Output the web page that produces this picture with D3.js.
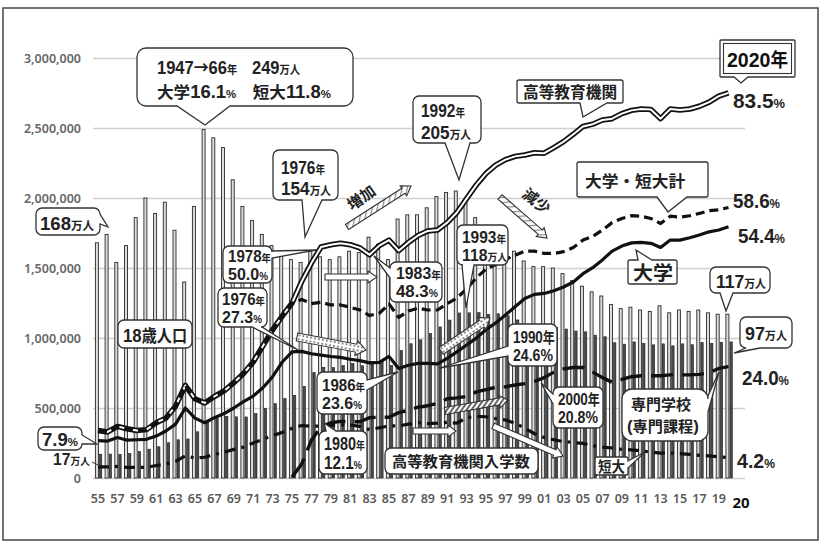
<!DOCTYPE html>
<html><head><meta charset="utf-8">
<script src="https://cdn.jsdelivr.net/npm/d3@7"></script>
<style>body{margin:0;background:#fff}svg{display:block}</style>
</head><body><svg id="c" width="823" height="547"></svg>
<script>
// ---------- data ----------
const years = [1955,1956,1957,1958,1959,1960,1961,1962,1963,1964,1965,1966,1967,1968,1969,1970,1971,1972,1973,1974,1975,1976,1977,1978,1979,1980,1981,1982,1983,1984,1985,1986,1987,1988,1989,1990,1991,1992,1993,1994,1995,1996,1997,1998,1999,2000,2001,2002,2003,2004,2005,2006,2007,2008,2009,2010,2011,2012,2013,2014,2015,2016,2017,2018,2019,2020];
// 18歳人口 (万人)
const pop18 = [168,174,154,166,186,200,189,197,177,140, 194,249,243,236,213,194,184,174,166,162, 156,154,162,158,156,158,162,161,172,167, 156,185,188,188,193,201,204,205,198,186, 177,173,168,162,155,151,151,150,146,141, 137,133,130,124,121,122,120,119,123,118, 120,119,120,118,117,117];
// 高等教育機関入学数 (万人)
const entrants = [17.0,17.1,16.9,17.4,18.8,20.6,22.3,25.2,27.3,27.9, 33.0,40.1,42.5,44.1,43.7,43.6,46.0,49.6,53.1,56.7, 59.0,65.5,75.3,79.0,78.8,80.3,81.8,80.2,83.1,84.0, 80.3,91.0,95.9,98.7,103.3,107.9,112.8,117.9,118.0,118.1, 116.8,117.3,115.9,112.9,108.5,106.5,106.3,107.4,106.4,105.0, 104.4,102.0,100.9,96.6,95.6,97.2,96.0,95.1,95.8,94.4, 95.8,95.2,96.7,96.2,96.9,97.2];
// 進学率 (%)
const rateHigher = [10.1,9.8,11.0,10.5,10.1,10.3,11.8,12.8,15.4,19.9, 17.0,16.1,17.5,18.7,20.5,22.5,25.0,28.5,32.0,35.0, 37.8,42.5,46.5,50.0,50.5,50.8,50.5,49.8,48.3,50.3, 51.5,49.2,51.0,52.5,53.5,53.7,55.3,57.5,60.5,63.5, 66.0,67.8,69.0,69.7,70.0,70.5,70.4,71.6,72.9,74.5, 76.2,76.7,77.6,77.9,79.0,79.7,80.0,79.9,77.9,80.0, 79.8,80.0,80.6,81.5,82.8,83.5];
const rateUnivJC = [10.1,9.8,11.0,10.5,10.1,10.3,11.8,12.8,15.4,19.9, 17.0,16.1,17.5,18.7,20.5,22.5,25.0,28.5,32.0,35.0, 37.8,38.6,37.7,38.0,37.4,37.4,36.9,36.3,35.1,35.6, 37.6,34.7,36.1,36.7,36.3,36.3,37.7,38.9,40.9,43.3, 45.2,46.2,47.3,48.2,49.1,49.1,48.6,48.6,49.0,49.9, 51.5,52.3,53.7,55.3,56.2,56.8,56.7,56.2,55.1,56.7, 56.5,56.8,57.3,57.9,58.1,58.6];
const rateUniv = [7.9,7.8,8.6,8.0,8.1,8.2,8.9,10.0,11.5,15.0, 12.8,11.8,12.9,13.8,15.0,16.4,17.6,19.4,21.8,25.0, 27.2,27.3,26.8,26.5,26.2,26.0,25.6,25.3,24.8,24.9, 26.2,23.6,24.3,24.7,24.7,24.6,25.8,27.2,28.7,30.2, 32.0,33.5,35.2,37.0,38.8,39.7,39.9,40.5,41.3,42.4, 44.2,45.5,47.2,49.1,50.2,50.9,51.0,50.8,49.9,51.5, 51.5,52.0,52.6,53.3,53.7,54.4];
const rateJC = [2.2,2.2,2.3,2.1,2.1,2.1,2.5,2.8,3.4,4.6, 4.1,4.3,4.9,5.4,6.0,6.5,7.4,8.2,9.0,9.7, 10.6,11.2,11.0,11.1,11.2,11.3,11.3,11.0,10.3,10.7, 11.1,11.1,11.5,11.8,11.6,11.7,11.9,11.7,12.9,13.2, 13.1,12.7,12.4,11.7,10.6,9.4,8.6,8.1,7.7,7.5, 7.3,6.8,6.5,6.3,6.0,5.9,5.7,5.4,5.2,5.2, 5.1,4.9,4.7,4.6,4.4,4.2];
// 専門学校(専門課程) from 1975
const vocYears = [1975,1976,1977,1978,1979,1980,1981,1982,1983,1984,1985,1986,1987,1988,1989,1990,1991,1992,1993,1994,1995,1996,1997,1998,1999,2000,2001,2002,2003,2004,2005,2006,2007,2008,2009,2010,2011,2012,2013,2014,2015,2016,2017,2018,2019,2020];
const rateVoc = [0,2.8,8.0,11.0,11.8,12.1,12.0,12.0,12.9,13.0, 13.0,14.0,14.5,15.2,15.5,16.0,17.0,17.2,17.5,18.5, 19.0,19.5,19.6,20.0,20.3,20.8,21.6,22.8,23.5,23.8, 23.8,22.8,21.6,20.6,21.2,21.8,22.0,22.0,22.0,22.2, 22.2,22.2,22.3,22.7,23.6,24.0];
const yTicks = [0,500000,1000000,1500000,2000000,2500000,3000000];
const xTickYears = [1955,1957,1959,1961,1963,1965,1967,1969,1971,1973,1975,1977,1979,1981,1983,1985,1987,1989,1991,1993,1995,1997,1999,2001,2003,2005,2007,2009,2011,2013,2015,2017,2019];

// ---------- setup ----------
const svg = d3.select("#c");
const JP = "'Noto Sans CJK JP','Noto Sans CJK SC',sans-serif";
const LAT = "'Liberation Sans Narrow','Liberation Sans',Arial,sans-serif";
const defs = svg.append("defs");
const pd = defs.append("pattern").attr("id","dots").attr("width",4).attr("height",4).attr("patternUnits","userSpaceOnUse");
pd.append("rect").attr("width",4).attr("height",4).attr("fill","#fff");
pd.append("circle").attr("cx",2).attr("cy",2).attr("r",0.9).attr("fill","#555");
const ph = defs.append("pattern").attr("id","hatch").attr("width",4).attr("height",4).attr("patternUnits","userSpaceOnUse").attr("patternTransform","rotate(45)");
ph.append("rect").attr("width",4).attr("height",4).attr("fill","#fff");
ph.append("rect").attr("width",2).attr("height",4).attr("fill","#666");
const ph2 = defs.append("pattern").attr("id","hatchL").attr("width",5).attr("height",5).attr("patternUnits","userSpaceOnUse").attr("patternTransform","rotate(45)");
ph2.append("rect").attr("width",5).attr("height",5).attr("fill","#fff");
ph2.append("rect").attr("width",1.2).attr("height",5).attr("fill","#888");

svg.append("rect").attr("x",3).attr("y",8).attr("width",815).attr("height",532).attr("fill","#fff").attr("stroke","#444").attr("stroke-width",1.5);

const x = d3.scaleBand().domain(years).range([93.15, 733.35]).padding(0);
const cx = y => x(y) + x.bandwidth()/2;
const yC = d3.scaleLinear().domain([0,3000000]).range([478,58]);
const yP = d3.scaleLinear().domain([0,100]).range([477,17]);

// y axis + grid
const ga = svg.append("g").attr("transform","translate(93,0)")
  .call(d3.axisLeft(yC).tickValues(yTicks).tickFormat(d3.format(",")).tickSizeInner(-652).tickSizeOuter(0).tickPadding(12));
ga.select(".domain").remove();
ga.selectAll(".tick line").attr("stroke","#cfcfcf").attr("stroke-width",1.4);
ga.selectAll(".tick text").attr("font-family","'Noto Sans',sans-serif").attr("font-size",12.5).attr("font-weight",600).attr("fill","#666");

// x axis
const gx = svg.append("g").attr("transform","translate(0,478)")
  .call(d3.axisBottom(x).tickValues(xTickYears).tickFormat(d => String(d).slice(2)).tickSize(0).tickPadding(16));
gx.select(".domain").remove();
gx.selectAll(".tick text").attr("font-family","'Noto Sans',sans-serif").attr("font-size",12.5).attr("font-weight",600).attr("fill","#5a5a5a");
svg.append("text").attr("x",741).attr("y",508).attr("text-anchor","middle").attr("font-family","'Noto Sans',sans-serif")
  .attr("font-size",15).attr("font-weight",700).attr("fill","#111").text("20");

// bars
const gb = svg.append("g");
gb.selectAll(".p").data(years).join("rect")
  .attr("x", (d)=>cx(d)-2.6).attr("width",3.0)
  .attr("y",(d,i)=>yC(pop18[i]*10000)).attr("height",(d,i)=>478-yC(pop18[i]*10000))
  .attr("fill","#dcdcdc").attr("stroke","#2a2a2a").attr("stroke-width",0.9);
gb.selectAll(".e").data(years).join("rect")
  .attr("x", (d)=>cx(d)+1.4).attr("width",2.4)
  .attr("y",(d,i)=>yC(entrants[i]*10000)).attr("height",(d,i)=>478-yC(entrants[i]*10000))
  .attr("fill","#4a4a4a").attr("stroke","#1e1e1e").attr("stroke-width",0.6);

// lines
const line = (arrY, vals) => d3.line().x((d,i)=>cx(arrY[i])).y(d=>yP(d))(vals);
const gl = svg.append("g").attr("fill","none").attr("stroke-linejoin","round");
gl.append("path").attr("d",line(years,rateHigher)).attr("stroke","#111").attr("stroke-width",5.5);
gl.append("path").attr("d",line(years,rateHigher)).attr("stroke","#fff").attr("stroke-width",2);
gl.append("path").attr("d",line(years,rateUnivJC)).attr("stroke","#111").attr("stroke-width",3.2).attr("stroke-dasharray","9,5");
gl.append("path").attr("d",line(years,rateUniv)).attr("stroke","#111").attr("stroke-width",3.2);
gl.append("path").attr("d",line(vocYears,rateVoc)).attr("stroke","#111").attr("stroke-width",3.4).attr("stroke-dasharray","22,9");
gl.append("path").attr("d",line(years,rateJC)).attr("stroke","#111").attr("stroke-width",3.2).attr("stroke-dasharray","11,6,3,6");

// ---------- helpers ----------
const CJK = /([\u2190-\u21ff\u3000-\u30ff\u3400-\u9fff\uff00-\uffef]+)/;
function rich(g, X, Y, str, size, len, fill, extra){
  const t = g.append("text").attr("x",0).attr("y",0).attr("font-weight",700)
    .attr("font-family",LAT).attr("font-size",size).attr("fill",fill||"#222");
  str.split(/(\{[^}]*\})/).filter(s=>s.length).forEach(seg=>{
    const small = seg[0]==="{";
    const body = small ? seg.slice(1,-1) : seg;
    body.split(CJK).filter(s=>s.length).forEach(run=>{
      const isC = CJK.test(run);
      t.append("tspan").attr("font-family", isC ? JP : LAT)
        .attr("font-size", small ? size*0.62 : (isC ? size*0.9 : size)).text(run);
    });
  });
  let k = 1;
  if (len) { const w = t.node().getComputedTextLength(); if (w>0) k = len / w; }
  t.attr("transform", `translate(${X},${Y})` + (extra||"") + ` scale(${k.toFixed(3)},1)`);
  return t;
}
function calloutPath(o){
  const {x:X,y:Y,w,h}=o, r=o.r||6, s=o.side, a=o.a, b=o.b, tp=o.tip;
  let p = `M${X+r},${Y}`;
  if (s==="top") p += `L${a},${Y}L${tp[0]},${tp[1]}L${b},${Y}`;
  p += `L${X+w-r},${Y}A${r},${r} 0 0 1 ${X+w},${Y+r}`;
  if (s==="right") p += `L${X+w},${a}L${tp[0]},${tp[1]}L${X+w},${b}`;
  p += `L${X+w},${Y+h-r}A${r},${r} 0 0 1 ${X+w-r},${Y+h}`;
  if (s==="bottom") p += `L${b},${Y+h}L${tp[0]},${tp[1]}L${a},${Y+h}`;
  p += `L${X+r},${Y+h}A${r},${r} 0 0 1 ${X},${Y+h-r}`;
  if (s==="left") p += `L${X},${b}L${tp[0]},${tp[1]}L${X},${a}`;
  p += `L${X},${Y+r}A${r},${r} 0 0 1 ${X+r},${Y}Z`;
  return p;
}
const gc = svg.append("g");
function callout(o, texts){
  gc.append("path").attr("d",calloutPath(o)).attr("fill","#fff").attr("stroke","#333").attr("stroke-width",1.3);
  texts.forEach(t=>rich(gc,t[0],t[1],t[2],t[3]||18,t[4]));
}
function arrow(p1,p2,sw,hw,hl,fill){
  const dx=p2[0]-p1[0], dy=p2[1]-p1[1], L=Math.hypot(dx,dy), ang=Math.atan2(dy,dx)*180/Math.PI;
  const pts=[[0,-sw/2],[L-hl,-sw/2],[L-hl,-hw/2],[L,0],[L-hl,hw/2],[L-hl,sw/2],[0,sw/2]];
  gc.append("path").attr("d","M"+pts.map(p=>p.join(",")).join("L")+"Z")
    .attr("transform",`translate(${p1[0]},${p1[1]}) rotate(${ang})`)
    .attr("fill",fill).attr("stroke","#333").attr("stroke-width",1.1);
}

// ---------- arrows ----------
arrow([325,277],[377,277],6,12,9,"#fff");
arrow([297,337],[366,350],8,15,10,"url(#dots)");
arrow([441,351],[490,318],8,15,10,"url(#dots)");
arrow([445,411],[508,400],7,13,9,"url(#hatch)");
arrow([413,431],[456,431],6,12,8,"#fff");
arrow([493,426],[563,456],6,12,9,"#fff");
arrow([347,227],[411,186],6,12,9,"url(#hatchL)");
arrow([500,197],[547,238],6,12,9,"url(#hatchL)");
rich(gc,352,211,"増加",17,null,null," rotate(-35)");
rich(gc,521,196,"減少",17,null,null," rotate(38)");

// ---------- callouts ----------
callout({x:137,y:48,w:216,h:58,r:9,side:"bottom",a:177,b:230,tip:[205,125]},
  [[157,74,"1947→66{年}　249{万人}",19,143],[157,98,"大学16.1{%}　短大11.8{%}",18,174]]);
callout({x:36,y:208,w:64,h:27,side:"right",a:214,b:224,tip:[108,227]},[[40,230,"168{万人}",19,54]]);
callout({x:273,y:150,w:65,h:50,side:"bottom",a:302,b:322,tip:[305,237]},[[281,174,"1976{年}",19,44],[281,195,"154{万人}",19,50]]);
callout({x:413,y:96,w:68,h:47,side:"bottom",a:445,b:470,tip:[459,180]},[[421,117,"1992{年}",19,44],[421,139,"205{万人}",19,50]]);
callout({x:517,y:80,w:106,h:23,r:2,side:"bottom",a:580,b:607,tip:[583,117]},[[523,98,"高等教育機関",18,94]]);
// 2020年 double box
gc.append("path").attr("d",calloutPath({x:720,y:40,w:75,h:37,r:1,side:"bottom",a:734,b:748,tip:[741,83]})).attr("fill","#fff").attr("stroke","#333").attr("stroke-width",1.3);
gc.append("rect").attr("x",723.5).attr("y",43.5).attr("width",68).attr("height",30).attr("fill","none").attr("stroke","#333").attr("stroke-width",1.1);
rich(gc,727,67,"2020年",21,61,"#111");
callout({x:577,y:162,w:131,h:35,r:2,side:"bottom",a:657,b:687,tip:[668,212]},[[585,187,"大学・短大計",18,100]]);
callout({x:628,y:260,w:49,h:24,r:2,side:"top",a:638,b:652,tip:[636,250]},[[633,280,"大学",22,40]]);
callout({x:710,y:267,w:60,h:26,side:"bottom",a:720,b:733,tip:[726,311]},[[716,288,"117{万人}",19,50]]);
callout({x:740,y:317,w:52,h:31,side:"bottom",a:746,b:760,tip:[734,353]},[[745,340,"97{万人}",19,42]]);
callout({x:622,y:389,w:86,h:52,r:10,side:"right",a:396,b:412,tip:[719,372]},[[631,410,"専門学校",17,60],[627,432,"(専門課程)",17,72]]);
callout({x:595,y:457,w:33,h:18,r:2,side:"right",a:461,b:468,tip:[645,452]},[[598,472,"短大",16,27]]);
callout({x:553,y:387,w:50,h:41,side:"left",a:394,b:404,tip:[541,383]},[[558,405,"2000年",17,42],[558,423,"20.8%",17,40]]);
callout({x:508,y:324,w:49,h:42,side:"left",a:346,b:356,tip:[440,368]},[[513,343,"1990年",17,42],[513,361,"24.6%",17,40]]);
callout({x:317,y:372,w:50,h:42,side:"right",a:380,b:390,tip:[398,372]},[[322,391,"1986{年}",17,43],[322,409,"23.6{%}",17,40]]);
callout({x:319,y:431,w:48,h:43,side:"top",a:326,b:336,tip:[324,423]},[[324,450,"1980{年}",18,41],[324,469,"12.1{%}",18,38]]);
callout({x:457,y:225,w:51,h:40,side:"bottom",a:462,b:474,tip:[466,308]},[[462,243,"1993{年}",17,44],[462,261,"118{万人}",17,45]]);
callout({x:390,y:262,w:52,h:40,side:"left",a:268,b:278,tip:[374,256]},[[396,279,"1983{年}",17,45],[396,297,"48.3{%}",17,42]]);
callout({x:223,y:246,w:49,h:37,side:"right",a:251,b:258,tip:[316,250]},[[228,262,"1978{年}",17,43],[228,280,"50.0{%}",17,40]]);
callout({x:218,y:288,w:49,h:39,side:"bottom",a:252,b:262,tip:[298,350]},[[222,305,"1976{年}",17,43],[222,323,"27.3{%}",17,40]]);
callout({x:118,y:320,w:74,h:28},[[123,342,"18歳人口",19,64]]);
callout({x:38,y:427,w:44,h:23,side:"right",a:435,b:444,tip:[97,444]},[[42,446,"7.9{%}",19,36]]);
callout({x:385,y:448,w:153,h:26},[[392,467,"高等教育機関入学数",17,138]]);

// free labels
rich(gc,53,465,"17{万人}",16,37);
gc.append("line").attr("x1",92).attr("y1",462).attr("x2",100).attr("y2",466).attr("stroke","#333").attr("stroke-width",1);
rich(gc,733,108,"83.5{%}",21,52);
rich(gc,733,208,"58.6{%}",21,47);
rich(gc,738,243,"54.4{%}",21,47);
rich(gc,742,385,"24.0{%}",21,47);
rich(gc,737,468,"4.2{%}",21,38);
</script></body></html>
